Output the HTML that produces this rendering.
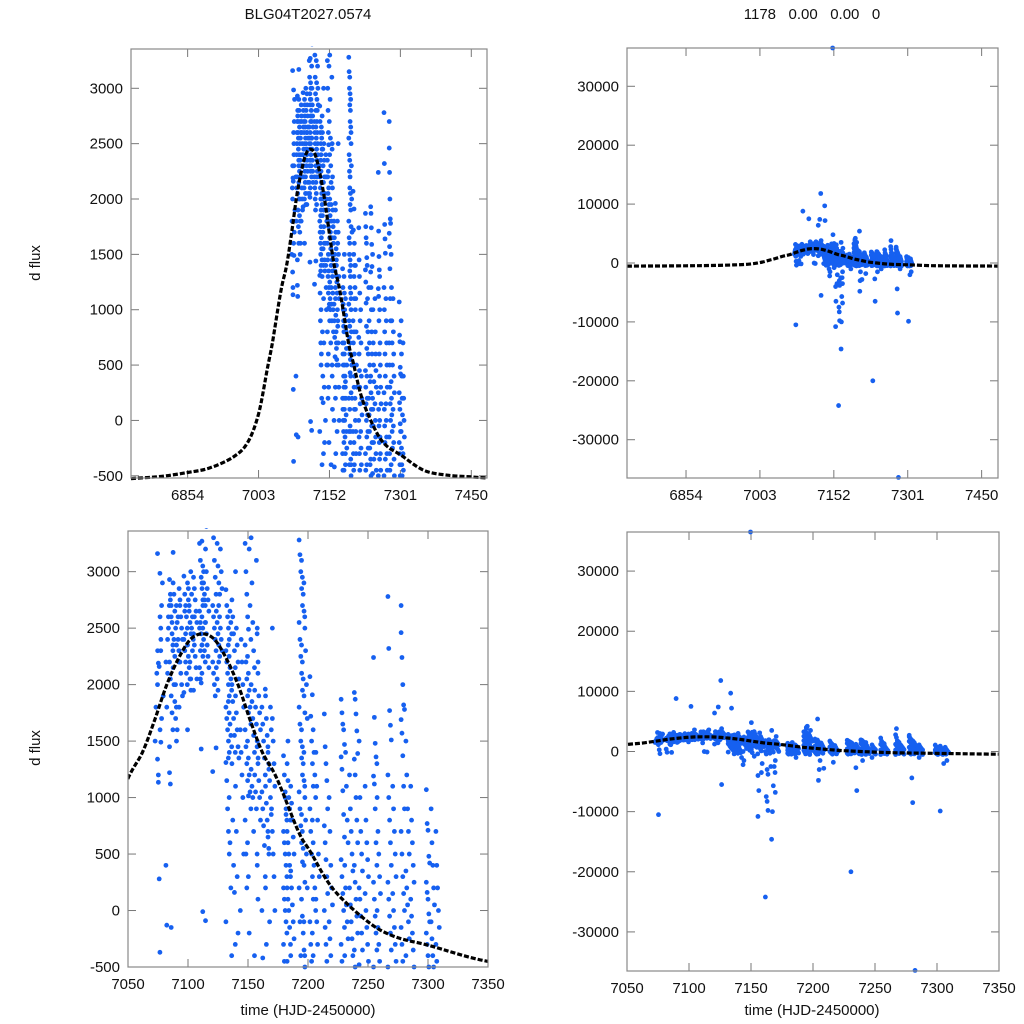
<!DOCTYPE html>
<html><head><meta charset="utf-8">
<style>
html,body{margin:0;padding:0;background:#fff;width:1024px;height:1024px;overflow:hidden;}
svg{display:block;}
text{font-family:"Liberation Sans",sans-serif;fill:#111;}
</style></head>
<body>
<svg id="fig" width="1024" height="1024" viewBox="0 0 1024 1024" xmlns="http://www.w3.org/2000/svg">
<text x="308" y="19" font-size="15" text-anchor="middle">BLG04T2027.0574</text>
<text x="812" y="19" font-size="15" text-anchor="middle" xml:space="preserve">1178   0.00   0.00   0</text>
<text x="0" y="0" font-size="15" text-anchor="middle" transform="translate(40,263) rotate(-90)">d flux</text>
<text x="0" y="0" font-size="15" text-anchor="middle" transform="translate(40,748) rotate(-90)">d flux</text>
<text x="308" y="1015" font-size="15" text-anchor="middle">time (HJD-2450000)</text>
<text x="812" y="1015" font-size="15" text-anchor="middle">time (HJD-2450000)</text>
</svg>
<script>
// ---- data ----
const obsTime = [7074,7076,7078,7083,7086,7089,7091,7094,7098,7101,7103,7106,7111,7113,7116,7122,7125,7127,7133,7135,7138,7141,7145,7149,7151,7154,7157,7159,7163,7166,7168,7171,7181,7184,7187,7194,7196,7198,7203,7205,7208,7215,7219,7229,7232,7236,7240,7244,7249,7256,7259,7268,7272,7279,7283,7287,7300,7304,7308];
const obsFlux = [
[1500,1800,2100,2300,-10500],
[3160,2190,2160,1600,1490,1340,1135,280,2600,2400,2000,1200],
[2985,2500,2700,2900,1900,-370,2300,1700],
[400,-130,2100,2500,2700,2200,1800,2400,2600],
[2930,2750,2600,2450,2300,2200,2050,1900,1750,1600,1450,2800,2700,2550,2350,1220,1120,-150],
[3170,2800,2650,2500,2350,2150,2000,1850,1700,1500,2900,2400,2250],
[8800,2700,2550,2400,2200,2000,1800,1600,2600,2300],
[2850,2700,2600,2500,2400,2300,2200,2100,2000,1900,1800,2750],
[2960,2800,2700,2600,2500,2400,2300,2200,2100,2000,1930,2650,2450],
[2900,2750,2650,2550,2450,2350,2250,2150,2050,1950,1600,2850,2700],
[7500,3000,2800,2600,2400,2200,2050,2500,2300,3600],
[2950,2850,2750,2650,2550,2450,2350,2250,2150,2050,1950,2600],
[3250,3100,2950,2850,2750,2650,2550,2450,2350,2250,2150,2050,2015,2900,2700,2500,2300,1430],
[3270,3050,2900,2800,2700,2600,2500,2400,2300,2200,2100,-10,3000,2750,2550,2350],
[3200,3000,2850,2750,2650,2550,2450,2350,2250,2150,-90,3400,3600],
[6400,3300,3100,2950,2800,2700,2600,2500,2400,2300,2200,2100,2000,1900,1440,1230],
[7400,3250,3050,2900,2800,2650,2550,2450,2350,2250,2150,2050,1950],
[11800,-5500,3200,3000,2850,2700,2600,2500,2400,2300,2200,3800],
[2840,2700,2600,2500,2400,2300,2200,2100,2000,1900,1800,1700,1600,1500,1400,1310,1150,900,700,500,-100],
[9700,7200,2650,2550,2450,2350,2250,2150,2050,1950,1850,1750,1650,1550,1450,1350,1000,600,200,-400],
[2750,2600,2450,2300,2150,2000,1850,1700,1550,1400,1300,800,400,160,-300],
[3000,2500,2350,2200,2050,1900,1750,1600,1450,1350,1100,700,300,-200,-1000],
[-2200,2400,2200,2000,1800,1600,1400,1200,1000,500,0,-1500],
[3250,3000,2800,2600,2490,2350,2200,2050,1900,1750,1600,1450,1300,1150,1015,800,500,200],
[36500,4800,3200,2700,2400,2250,2100,1950,1800,1650,1500,1350,1200,1050,900,600,300,-200],
[3300,2900,2550,2300,2150,2000,1850,1700,1550,1400,1250,1100,1000,700,-400,-800],
[-10800,-6500,3100,2500,2200,1950,1800,1650,1500,1350,1200,1050,900,400,-3500,-4000],
[2450,2100,1900,1750,1600,1450,1300,1150,1000,800,500,100,-2000],
[-24200,-7500,-8300,-9800,1960,1800,1650,1500,1350,1200,1050,900,750,575,300,0,-420,-3000,-3800],
[1900,1700,1550,1400,1250,1100,950,800,650,500,200,-300,-2500,3500],
[-14600,-10000,-5700,1800,1600,1450,1300,1150,1000,850,700,550,-100,-2500,-3500],
[-6800,1700,1500,1300,1100,900,700,500,300,0,-1500,2500],
[1370,1200,1050,900,800,700,600,500,400,300,200,100,0,-100,-200,-300,-450,1000,850],
[1300,1150,1000,900,800,700,600,500,400,300,200,100,0,-150,-300,-450,1500],
[1100,950,800,650,500,350,200,50,-100,-250,-400,-1000],
[3280,3150,3000,2850,2700,2550,2400,2250,2100,1950,1800,1650,1500,1350,1200,1050,900,750,600,430,200,-100,-400,3800,4200],
[3100,2950,2800,2650,2500,2350,2200,2050,1900,1750,1600,1450,1300,1150,1000,850,700,550,400,250,100,-50,-200,-350,-500,4000],
[2900,2600,2300,2000,1700,1400,1100,800,500,200,-100,-400,3500],
[2070,1720,1500,1300,1100,900,700,500,300,100,-100,-300,-450,5400,-4800],
[1910,1600,1400,1200,1000,800,600,400,200,0,-200,-400,-3000,-1500],
[1400,1100,800,500,300,100,-100,-300,-2800],
[1740,1450,1300,1150,900,750,600,450,300,150,0,-150,-300,-450,-1800],
[1000,700,400,200,50,-100,-250,-400],
[1870,1750,1650,1600,1470,1360,1250,1060,850,650,450,300,150,0,-150,-300,-450],
[-20000,1400,1100,800,600,400,200,50,-100,-250,-400],
[1200,900,700,500,350,200,50,-100,-250,-400,-2700,-6500],
[1930,1870,1740,1590,1390,1340,1200,1000,800,600,400,250,100,-50,-200,-350,-500,-1500],
[1500,1000,700,500,350,200,100,-50,-200,-350,-480],
[1100,800,600,450,300,150,0,-150,-300,-450,-1000],
[2240,1710,1480,1360,1300,1190,1120,900,600,400,250,100,-50,-200,-350,-500],
[1000,700,500,300,150,0,-150,-300,-450],
[2780,2320,1770,1640,1510,1200,1000,800,600,400,250,100,-50,-200,-350,-500,3800],
[1100,900,700,500,300,150,0,-150,-300,-450],
[2460,2240,2000,1820,1780,1690,1570,1370,1100,900,700,500,300,150,0,-150,-300,-450,-4400,-8500,2700],
[1500,1200,900,700,500,350,200,50,-100,-250,-400,-36400],
[1100,800,600,400,250,100,-50,-200,-350,-500,-1000],
[1070,770,710,480,420,250,160,100,-30,-100,-200,-300,-400,-500],
[900,600,400,200,50,-100,-250,-400,-500,-2000,-9900],
[700,400,200,0,-150,-300,-450,-1500]
];
const modelTime = [6735,6800,6854,6900,6950,6980,7003,7022,7032,7050,7062,7072,7082,7092,7102,7112,7122,7132,7142,7152,7162,7174,7192,7202,7221,7250,7272,7301,7350,7400,7450,7483];
const modelFlux = [-525,-505,-470,-430,-330,-200,60,480,700,1170,1400,1680,1990,2230,2400,2450,2400,2230,1990,1680,1400,1170,700,520,190,-100,-230,-310,-450,-495,-510,-520];
const xTicksTop = [6854,7003,7152,7301,7450];
const xTicksBottom = [7050,7100,7150,7200,7250,7300,7350];
const yTicksSmall = [-500,0,500,1000,1500,2000,2500,3000];
const yTicksBig = [-30000,-20000,-10000,0,10000,20000,30000];

const NS = 'http://www.w3.org/2000/svg';
const svg = document.getElementById('fig');
function mk(tag, attrs){const e=document.createElementNS(NS,tag);for(const k in attrs)e.setAttribute(k,attrs[k]);return e;}

const panels = [
 {id:'top-left', x0:131,x1:487,y0:49,y1:478, xmin:6735,xmax:7483, ymin:-520,ymax:3355, xt:xTicksTop, yt:yTicksSmall},
 {id:'top-right', x0:627,x1:998,y0:48,y1:478, xmin:6735,xmax:7483, ymin:-36500,ymax:36500, xt:xTicksTop, yt:yTicksBig},
 {id:'bottom-left', x0:128,x1:488,y0:531,y1:967, xmin:7050,xmax:7350, ymin:-500,ymax:3360, xt:xTicksBottom, yt:yTicksSmall},
 {id:'bottom-right', x0:627,x1:999,y0:532,y1:971, xmin:7050,xmax:7350, ymin:-36500,ymax:36500, xt:xTicksBottom, yt:yTicksBig}
];

function smoothPath(pts){
  let d='M'+pts[0][0].toFixed(1)+','+pts[0][1].toFixed(1);
  for(let i=0;i<pts.length-1;i++){
    const p0=pts[Math.max(i-1,0)],p1=pts[i],p2=pts[i+1],p3=pts[Math.min(i+2,pts.length-1)];
    const c1x=p1[0]+(p2[0]-p0[0])/6,c1y=p1[1]+(p2[1]-p0[1])/6;
    const c2x=p2[0]-(p3[0]-p1[0])/6,c2y=p2[1]-(p3[1]-p1[1])/6;
    d+=' C'+c1x.toFixed(1)+','+c1y.toFixed(1)+' '+c2x.toFixed(1)+','+c2y.toFixed(1)+' '+p2[0].toFixed(1)+','+p2[1].toFixed(1);
  }
  return d;
}

panels.forEach(p=>{
  const sx=t=>p.x0+(t-p.xmin)/(p.xmax-p.xmin)*(p.x1-p.x0);
  const sy=v=>p.y1-(v-p.ymin)/(p.ymax-p.ymin)*(p.y1-p.y0);
  const g=mk('g',{});
  
  
  svg.appendChild(g);
  const clipId='clip-'+p.id;
  const cp=mk('clipPath',{id:clipId});
  cp.appendChild(mk('rect',{x:p.x0-3,y:p.y0-3,width:p.x1-p.x0+6,height:p.y1-p.y0+6}));
  g.appendChild(cp);
  const lineClip='lclip-'+p.id;
  const cp2=mk('clipPath',{id:lineClip});
  cp2.appendChild(mk('rect',{x:p.x0,y:p.y0-3,width:p.x1-p.x0,height:p.y1-p.y0+6}));
  g.appendChild(cp2);
  p.xt.forEach(t=>{
    const x=sx(t);
    const a=mk('line',{x1:x,x2:x,y1:p.y1,y2:p.y1-8,stroke:'#777','stroke-width':1});
    
    
    g.appendChild(a);
    g.appendChild(mk('line',{x1:x,x2:x,y1:p.y0,y2:p.y0+8,stroke:'#777','stroke-width':1}));
    const l=mk('text',{x:x,y:p.y1+22,'font-size':15,'text-anchor':'middle'});
    l.textContent=t;
    
    
    g.appendChild(l);
  });
  p.yt.forEach(v=>{
    const y=sy(v);
    const a=mk('line',{x1:p.x0,x2:p.x0+8,y1:y,y2:y,stroke:'#777','stroke-width':1});
    
    
    g.appendChild(a);
    g.appendChild(mk('line',{x1:p.x1,x2:p.x1-8,y1:y,y2:y,stroke:'#777','stroke-width':1}));
    const l=mk('text',{x:p.x0-8,y:y+5,'font-size':15,'text-anchor':'end'});
    l.textContent=v;
    
    
    g.appendChild(l);
  });
  const pg=mk('g',{'clip-path':'url(#'+clipId+')',fill:'#1660f0'});
  
  
  g.appendChild(pg);
  obsTime.forEach((t,i)=>{
    obsFlux[i].forEach((f,j)=>{
      const c=mk('circle',{cx:sx(t+((j%5)-2)*0.7),cy:sy(f),r:2.4});
      
      
      pg.appendChild(c);
    });
  });
  const pts=modelTime.map((t,i)=>[sx(t),sy(modelFlux[i])]);
  const m=mk('path',{d:smoothPath(pts),fill:'none',stroke:'#000','stroke-width':3.2,'stroke-dasharray':'5,2','clip-path':'url(#'+lineClip+')'});
  
  
  g.appendChild(m);
  const fr=mk('rect',{x:p.x0,y:p.y0,width:p.x1-p.x0,height:p.y1-p.y0,fill:'none',stroke:'#888','stroke-width':1.2});
  
  
  g.appendChild(fr);
});
</script>
</body></html>
